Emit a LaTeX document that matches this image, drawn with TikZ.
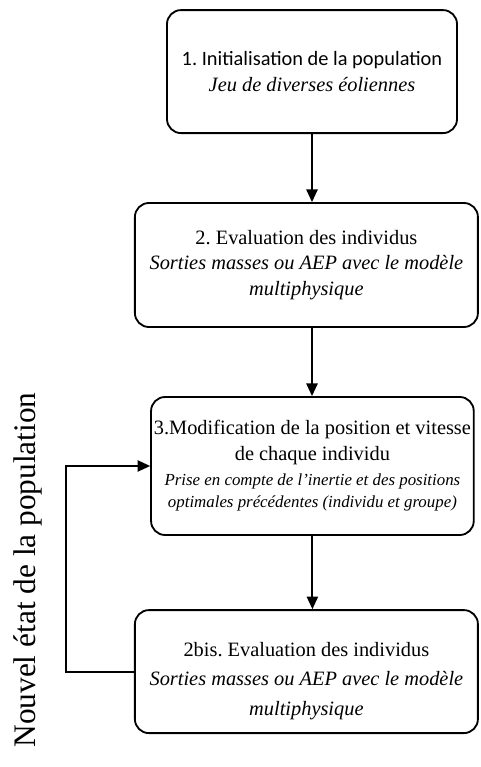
\documentclass[tikz,border=0pt]{standalone}
\usepackage{fontspec}
\setmainfont{LiberationSerif}[Extension=.ttf,UprightFont=*-Regular,ItalicFont=*-Italic,BoldFont=*-Bold,BoldItalicFont=*-BoldItalic]
\newfontfamily\carlito{Carlito}
\frenchspacing
\usetikzlibrary{arrows.meta,positioning,calc}
\tikzset{
  >={Triangle[width=8pt,length=9pt]},
  box/.style={draw,rounded corners=3.5mm,line width=1.3pt,align=center,inner sep=2pt,font=\fontsize{14.5}{18}\selectfont},
  flow/.style={->,line width=1.3pt},
  side/.style={rotate=90,inner sep=0pt,font=\fontsize{22.3}{26}\selectfont}
}
\begin{document}
\begin{tikzpicture}[x=1cm,y=1cm]
    \useasboundingbox (0,0) rectangle (12,-19.175);
    \node[box,minimum width=7.25cm,minimum height=3.075cm] (init) at (7.8,-1.79)
      {{\carlito 1. Initialisation de la population}\\ \textit{Jeu de diverses éoliennes}};
    \node[box,minimum width=8.575cm,minimum height=3.1cm] (eval) at (7.66,-6.625)
      {2. Evaluation des individus\\ \textit{Sorties masses ou AEP avec le modèle}\\ \textit{multiphysique}};
    \node[box,minimum width=8.025cm,minimum height=3.45cm] (move) at (7.81,-11.65)
      {3.Modification de la position et vitesse\\ de chaque individu\\
       {\fontsize{12}{15}\selectfont\itshape Prise en compte de l’inertie et des positions}\\[-2pt]
       {\fontsize{12}{15}\selectfont\itshape optimales précédentes (individu et groupe)}};
    \node[box,minimum width=8.575cm,minimum height=3.075cm,font=\fontsize{14.5}{21}\selectfont] (eval2) at (7.66,-16.79)
      {\rule{0pt}{23pt}2bis. Evaluation des individus\\ \textit{Sorties masses ou AEP avec le modèle}\\ \textit{multiphysique}};
    \node[side] (state) at (0.69,-14.25) {Nouvel état de la population};
    \coordinate (bend) at (1.65,0);
    \draw[flow] (init.south) -- (init.south |- eval.north);
    \draw[flow] (init.south |- eval.south) -- (init.south |- move.north);
    \draw[flow] (move.south) -- (move.south |- eval2.north);
    \draw[flow] (eval2.west) -- (eval2.west -| bend) |- (move.west);
\end{tikzpicture}
\end{document}
